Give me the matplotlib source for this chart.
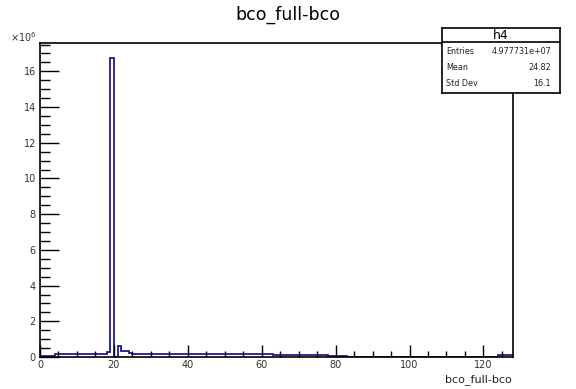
import numpy as np
import matplotlib.pyplot as plt
from matplotlib.ticker import MultipleLocator, FuncFormatter

# bin contents of h4 (bco_full-bco), one bin per unit from 0 to 128, in millions
edges = np.arange(0, 129)
low = [0.08] * 4
flat1 = [0.15] * 14
peak = [0.30, 16.75, 0.02, 0.60, 0.35, 0.33, 0.20]
flat2 = [0.15] * 38
tail1 = [0.10] * 15
tail2 = [0.05] * 5
tail3 = [0.02] * 41
end = [0.10] * 4
counts = np.array(low + flat1 + peak + flat2 + tail1 + tail2 + tail3 + end) * 1e6

entries = "4.977731e+07"
mean = "24.82"
std_dev = "16.1"

W, H = 576, 389
fig = plt.figure(figsize=(W / 100, H / 100), dpi=100)
ax = fig.add_axes([40 / W, 32 / H, 473 / W, 314 / H])

ax.stairs(counts, edges, color="#1c1c8a", linewidth=1.3)
ax.set_xlim(0, 128)
ax.set_ylim(0, 1.05 * counts.max())

for s in ax.spines.values():
    s.set_linewidth(1.2)

ax.xaxis.set_major_locator(MultipleLocator(20))
ax.xaxis.set_minor_locator(MultipleLocator(5))
ax.yaxis.set_major_locator(MultipleLocator(2e6))
ax.yaxis.set_minor_locator(MultipleLocator(0.5e6))
ax.yaxis.set_major_formatter(FuncFormatter(lambda v, p: f"{v / 1e6:g}"))
ax.tick_params(axis="x", which="major", direction="in", length=9, width=1, labelsize=7, pad=2)
ax.tick_params(axis="x", which="minor", direction="in", length=4.5, width=1)
ax.tick_params(axis="y", which="major", direction="in", length=14, width=1, labelsize=7, pad=3)
ax.tick_params(axis="y", which="minor", direction="in", length=7, width=1)
ax.tick_params(labelcolor="#333333")

fig.text(10 / W, 1 - 37 / H, r"$\times10^{6}$", fontsize=7, color="#333333", va="center")
fig.text(288 / W, 1 - 15 / H, "bco_full-bco", fontsize=12.5, ha="center", va="center")
fig.text(512 / W, 1 - 380 / H, "bco_full-bco", fontsize=8, ha="right", va="center",
         color="#222222")

# statistics box, laid out in pixel units
bx0, bx1, by0, by1 = 442, 560, 28, 93
box = fig.add_axes([bx0 / W, 1 - by1 / H, (bx1 - bx0) / W, (by1 - by0) / H])
box.set_xticks([])
box.set_yticks([])
box.set_xlim(bx0, bx1)
box.set_ylim(by1, by0)
for s in box.spines.values():
    s.set_linewidth(1.2)
box.axhline(42, color="black", linewidth=1.2)
box.text((bx0 + bx1) / 2, 35.5, "h4", ha="center", va="center", fontsize=9)
rows = [("Entries", entries), ("Mean", mean), ("Std Dev", std_dev)]
for i, (name, val) in enumerate(rows):
    y = 51.5 + 16 * i
    box.text(446.5, y, name, ha="left", va="center", fontsize=5.8, color="#222222")
    box.text(551, y, val, ha="right", va="center", fontsize=5.8, color="#222222")

fig.savefig("out.png", dpi=100)
